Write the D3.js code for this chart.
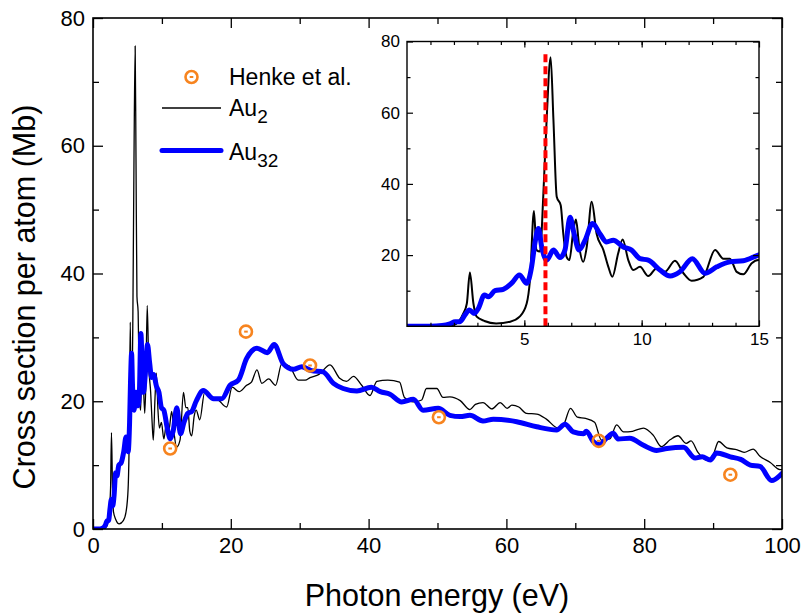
<!DOCTYPE html>
<html>
<head>
<meta charset="utf-8">
<script src="https://cdn.jsdelivr.net/npm/d3@7"></script>
<style>
  body { margin: 0; background: #fff; }
  svg { display: block; font-family: "Liberation Sans", Arial, sans-serif; }
</style>
</head>
<body>
<svg id="chart" width="803" height="614"></svg>
<script>
// Au2 cross section (thin black)
var au2Energy = [0, 1.0, 1.6, 2.0, 2.4, 2.55, 2.68, 2.83, 2.97, 3.3, 3.8, 4.4, 4.8, 5.1, 5.24, 5.41, 5.52, 5.67, 5.81, 5.95,
  6.12, 6.24, 6.38, 6.55, 6.66, 6.8, 6.92, 7.09, 7.2, 7.34, 7.51, 7.66, 7.87, 8.08, 8.37, 8.58, 8.75, 9.0, 9.19, 9.43,
  9.64, 9.93, 10.28, 10.64, 10.99, 11.42, 11.78, 12.13, 12.63, 13.13, 13.48, 13.76, 14.05, 14.33, 14.69, 14.97, 15.5, 16.2, 17.0, 18.1,
  19.4, 20.2, 21.2, 22.3, 23.0, 23.8, 24.5, 25.5, 26.5, 27.4, 28.5, 29.8, 30.8, 31.5, 32.8, 34.4, 35.8, 36.8, 37.8, 39.0,
  40.2, 41.2, 42.8, 44.5, 45.2, 46.5, 47.7, 48.4, 49.9, 50.8, 51.8, 53.3, 54.7, 55.5, 56.6, 57.9, 59.1, 60.1, 60.8, 61.8,
  62.9, 64.4, 65.8, 67.5, 68.3, 69.3, 70.3, 71.5, 72.8, 73.8, 75.0, 76.0, 77.0, 78.3, 79.9, 81.3, 82.5, 83.8, 84.9, 86.1,
  86.8, 87.8, 89.0, 90.0, 90.8, 92.0, 93.5, 94.5, 95.8, 96.8, 98.3, 99.7, 100];
var au2Sigma = [0, 0, 0.1, 0.4, 3.6, 6.4, 15.1, 6.4, 2.7, 1.5, 0.8, 1.3, 2.7, 6.4, 13, 32.4, 21.4, 21, 37, 58,
  75.6, 58, 36.4, 34, 26, 19.5, 18.6, 27, 30, 22.3, 18.1, 22.3, 35, 26, 21.4, 16.7, 13.9, 20.5, 24.4, 18.6,
  15.8, 16.7, 14.1, 16.3, 15.3, 18.4, 14.9, 12.8, 13.9, 21.4, 19, 19, 15.3, 14.6, 17.7, 18.6, 17.1, 21.4, 20.8, 20.3,
  19.1, 22.2, 21.5, 22.5, 23.0, 24.9, 22.8, 23.5, 22.5, 25.9, 25.5, 23.3, 23.3, 23.7, 24.2, 25.7, 23.6, 23.1, 23.9, 22.5,
  20.9, 23.1, 23.3, 23.0, 20.6, 19.9, 20.2, 22.0, 22.0, 20.6, 20.7, 20.1, 18.7, 19.5, 19.8, 18.8, 19.8, 18.9, 19.4, 19.1,
  18.1, 18.0, 17.2, 15.8, 16.3, 18.9, 17.5, 17.3, 16.7, 13.9, 14.1, 16.3, 15.2, 15.3, 15.8, 14.7, 12.9, 14.0, 14.6, 13.4,
  13.8, 12.0, 10.8, 11.6, 13.7, 12.7, 12.4, 12.0, 12.5, 11.4, 10.4, 9.3, 9.3];

// Au32 cross section (thick blue)
var au32Energy = [0, 1.0, 1.5, 1.83, 2.05, 2.26, 2.47, 2.66, 2.86, 3.04, 3.3, 3.47, 3.75, 4.1, 4.46, 4.79, 5.1, 5.31, 5.45, 5.6,
  5.74, 5.95, 6.24, 6.52, 6.73, 6.95, 7.12, 7.33, 7.59, 7.91, 8.22, 8.51, 8.79, 9.22, 9.57, 9.93, 10.28, 10.78, 11.21, 11.63,
  12.16, 12.7, 13.2, 13.76, 14.33, 14.97, 16.0, 17.5, 18.7, 19.9, 21.1, 22.3, 23.8, 25.3, 26.3, 27.6, 29.1, 30.3, 31.7, 33.4,
  34.9, 36.3, 38.3, 40.4, 41.7, 43.1, 44.8, 46.5, 47.9, 50.1, 51.8, 53.3, 54.7, 56.6, 58.1, 61.5, 64.4, 67.3, 68.5, 69.7,
  71.2, 71.6, 72.6, 73.5, 74.5, 75.5, 76.2, 77.9, 79.9, 81.8, 83.3, 85.7, 87.4, 88.4, 89.6, 90.5, 92.5, 94.0, 95.4, 96.8,
  98.5, 100];
var au32Sigma = [0, 0, 0.2, 0.7, 1.3, 1.3, 3.2, 4.6, 3.6, 5, 8.8, 8.3, 10, 10.4, 12.1, 14.4, 12.1, 16.7, 23.3, 27.5,
  22.3, 18.6, 21.4, 19.3, 21.4, 30.6, 26, 21.4, 24.2, 28.9, 26, 23.7, 24.2, 22.3, 21.4, 19, 18.6, 15.8, 14.1, 15.3,
  19, 14.9, 16.7, 18.1, 18.4, 20, 21.7, 20.4, 20.4, 22.5, 23.3, 26.7, 28.3, 27.6, 28.9, 25.9, 25.0, 25.4, 24.8, 24.6,
  22.8, 22.0, 21.6, 22.2, 21.5, 21.1, 19.9, 20.3, 18.6, 18.9, 17.8, 17.6, 17.8, 16.9, 17.2, 16.8, 16.0, 15.5, 16.4, 15.2,
  14.9, 15.3, 13.7, 13.2, 14.2, 15.0, 14.1, 14.2, 13.1, 12.3, 12.6, 12.8, 11.1, 11.3, 10.8, 11.9, 11.3, 10.9, 10.0, 9.8,
  7.6, 8.7];

// Henke et al. points
var henkeEnergy = [11.2, 22.2, 31.5, 50.2, 73.4, 92.5];
var henkeSigma = [12.6, 30.9, 25.6, 17.5, 13.8, 8.5];

// ticks
var mainXTicks = [0, 20, 40, 60, 80, 100];
var mainYTicks = [0, 20, 40, 60, 80];
var insetXTicks = [5, 10, 15];
var insetYTicks = [20, 40, 60, 80];
var markerEnergy = 5.9;

var au2 = au2Energy.map((e, i) => ({e: e, v: au2Sigma[i]}));
var au32 = au32Energy.map((e, i) => ({e: e, v: au32Sigma[i]}));
var henke = henkeEnergy.map((e, i) => ({e: e, v: henkeSigma[i]}));

var svg = d3.select('#chart');
var orange = '#f7841f';

//Measurements for the main plot
var mLeft = 93, mTop = 18, mRight = 782, mBottom = 529;

var xScale = d3.scaleLinear().domain([0, 100]).range([mLeft, mRight]);
var yScale = d3.scaleLinear().domain([0, 80]).range([mBottom, mTop]);

//Measurements for the inset
var iLeft = 407, iTop = 41.5, iRight = 759, iBottom = 326.3;

var xInset = d3.scaleLinear().domain([0, 15]).range([iLeft, iRight]);
var yInset = d3.scaleLinear().domain([0, 80]).range([iBottom, iTop]);

// draws frame with inward ticks on all four sides
function drawFrame(x, y, o) {
  var g = svg.append('g');
  var x0 = x.range()[0], x1 = x.range()[1], y0 = y.range()[0], y1 = y.range()[1];
  var sides = [
    [d3.axisBottom, x, 'translate(0,' + y0 + ')', o.xMajor, o.xMinor, true],
    [d3.axisTop, x, 'translate(0,' + y1 + ')', o.xMajor, o.xMinor, false],
    [d3.axisLeft, y, 'translate(' + x0 + ',0)', o.yMajor, o.yMinor, true],
    [d3.axisRight, y, 'translate(' + x1 + ',0)', o.yMajor, o.yMinor, false]
  ];
  sides.forEach((s, k) => {
    var axMinor = s[0](s[1]).tickValues(s[4]).tickSize(-o.minorLen).tickSizeOuter(0).tickFormat('');
    g.append('g').attr('transform', s[2]).call(axMinor);
    var ax = s[0](s[1]).tickValues(s[3]).tickSize(-o.majorLen).tickSizeOuter(0).tickPadding(o.pad)
      .tickFormat(s[5] ? d3.format('d') : '');
    var a = g.append('g').attr('transform', s[2]).call(ax);
    a.selectAll('text').style('font-size', o.font + 'px').attr('fill', '#000');
    if (k === 2 && o.hideZero) a.selectAll('.tick text').filter(d => d === 0).remove();
  });
  g.selectAll('.domain').remove();
  g.selectAll('line').attr('stroke', '#000').attr('stroke-width', o.tickWidth);
  g.append('rect')
    .attr('x', x0).attr('y', y1)
    .attr('width', x1 - x0).attr('height', y0 - y1)
    .attr('fill', 'none').attr('stroke', '#000').attr('stroke-width', o.frameWidth);
  return g;
}

var line = (x, y) => d3.line().x(d => x(d.e)).y(d => y(d.v)).curve(d3.curveMonotoneX);

//Main curves
svg.append('clipPath').attr('id', 'mainClip')
  .append('rect').attr('x', mLeft).attr('y', mTop).attr('width', mRight - mLeft).attr('height', mBottom - mTop);

var main = svg.append('g').attr('clip-path', 'url(#mainClip)');
main.append('path').datum(au2)
  .attr('d', line(xScale, yScale))
  .attr('fill', 'none').attr('stroke', '#000').attr('stroke-width', 1.3);
main.append('path').datum(au32)
  .attr('d', line(xScale, yScale))
  .attr('fill', 'none').attr('stroke', '#0000ff').attr('stroke-width', 5)
  .attr('stroke-linejoin', 'round').attr('stroke-linecap', 'round');

//Henke markers
var hk = svg.append('g').selectAll('g').data(henke).enter().append('g')
  .attr('transform', d => 'translate(' + xScale(d.e) + ',' + yScale(d.v) + ')');
hk.append('circle').attr('r', 6).attr('fill', 'none').attr('stroke', orange).attr('stroke-width', 2.6);
hk.append('rect').attr('x', -1.8).attr('y', -1).attr('width', 3.6).attr('height', 2).attr('fill', orange);

drawFrame(xScale, yScale, {
  xMajor: mainXTicks, xMinor: [10, 30, 50, 70, 90],
  yMajor: mainYTicks, yMinor: [10, 30, 50, 70],
  majorLen: 10, minorLen: 6, pad: 8, font: 22, tickWidth: 1.3, frameWidth: 1.6
});

//Axis labels
svg.append('text')
  .attr('x', 437).attr('y', 606)
  .style('text-anchor', 'middle').style('font-size', '30.5px')
  .text('Photon energy (eV)');

svg.append('text')
  .attr('transform', 'translate(35,297) rotate(-90)')
  .style('text-anchor', 'middle').style('font-size', '30.5px')
  .text('Cross section per atom (Mb)');

//Legend
var legend = svg.append('g');
legend.append('circle').attr('cx', 191.5).attr('cy', 77).attr('r', 6)
  .attr('fill', 'none').attr('stroke', orange).attr('stroke-width', 2.6);
legend.append('rect').attr('x', 189.7).attr('y', 76).attr('width', 3.6).attr('height', 2).attr('fill', orange);
legend.append('text').attr('x', 229).attr('y', 85).style('font-size', '23px').text('Henke et al.');

legend.append('line').attr('x1', 162).attr('x2', 221).attr('y1', 108).attr('y2', 108)
  .attr('stroke', '#000').attr('stroke-width', 1.3);
var t2 = legend.append('text').attr('x', 229).attr('y', 116).style('font-size', '23px');
t2.append('tspan').text('Au');
t2.append('tspan').attr('dy', 7).style('font-size', '19px').text('2');

legend.append('line').attr('x1', 162).attr('x2', 221).attr('y1', 150.5).attr('y2', 150.5)
  .attr('stroke', '#0000ff').attr('stroke-width', 5).attr('stroke-linecap', 'round');
var t32 = legend.append('text').attr('x', 229).attr('y', 160).style('font-size', '23px');
t32.append('tspan').text('Au');
t32.append('tspan').attr('dy', 7).style('font-size', '19px').text('32');

//Inset
svg.append('rect')
  .attr('x', iLeft).attr('y', iTop).attr('width', iRight - iLeft).attr('height', iBottom - iTop)
  .attr('fill', '#fff');

svg.append('clipPath').attr('id', 'insetClip')
  .append('rect').attr('x', iLeft).attr('y', iTop).attr('width', iRight - iLeft).attr('height', iBottom - iTop);

var inset = svg.append('g').attr('clip-path', 'url(#insetClip)');
inset.append('path').datum(au2.filter(d => d.e <= 15.6))
  .attr('d', line(xInset, yInset))
  .attr('fill', 'none').attr('stroke', '#000').attr('stroke-width', 2);
inset.append('path').datum(au32.filter(d => d.e <= 16.1))
  .attr('d', line(xInset, yInset))
  .attr('fill', 'none').attr('stroke', '#0000ff').attr('stroke-width', 5)
  .attr('stroke-linejoin', 'round').attr('stroke-linecap', 'round');
inset.append('line')
  .attr('x1', xInset(markerEnergy)).attr('x2', xInset(markerEnergy))
  .attr('y1', yInset(0)).attr('y2', yInset(77.5))
  .attr('stroke', '#ff0000').attr('stroke-width', 4).attr('stroke-dasharray', '8,4');

drawFrame(xInset, yInset, {
  xMajor: insetXTicks, xMinor: d3.range(1, 15),
  yMajor: insetYTicks, yMinor: [10, 30, 50, 70],
  majorLen: 6, minorLen: 3.5, pad: 7, font: 17, tickWidth: 1.2, frameWidth: 1.4,
  hideZero: true
});
</script>
</body>
</html>
